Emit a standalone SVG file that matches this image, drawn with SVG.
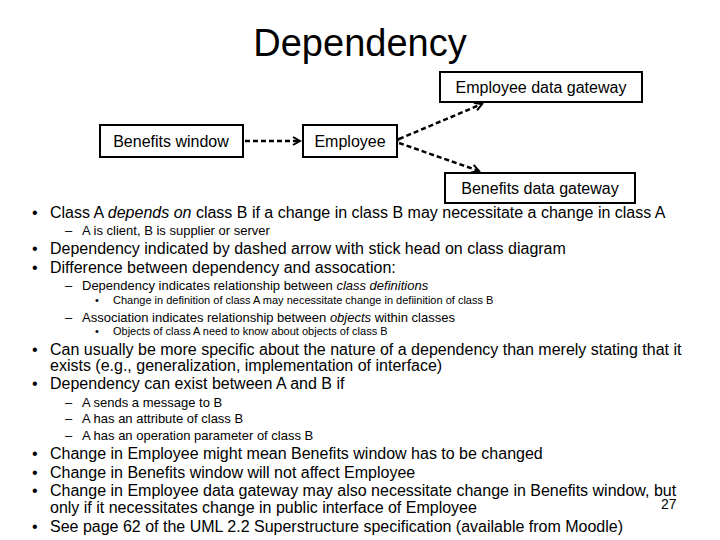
<svg xmlns="http://www.w3.org/2000/svg" width="720" height="540" viewBox="0 0 720 540">
<style>
text{font-family:"Liberation Sans",Arial,sans-serif;fill:#000}
.box{fill:#fff;stroke:#000;stroke-width:2}
.bt{font-size:16px}
.l1{font-size:16px}
.l2{font-size:13px}
.l3{font-size:11px}
.c{stroke:#000;stroke-width:2.5;stroke-dasharray:5,3;fill:none}
</style>
<defs>
<marker id="h" markerWidth="10" markerHeight="10" refX="8" refY="5" orient="auto" markerUnits="userSpaceOnUse">
<path d="M1,1 L8,5 L1,9" fill="none" stroke="#000" stroke-width="2"/>
</marker>
</defs>
<rect width="720" height="540" fill="#fff"/>
<text x="360" y="56" font-size="38" text-anchor="middle">Dependency</text>
<g id="connectors">
<line class="c" x1="245" y1="141" x2="300" y2="141" marker-end="url(#h)"/>
<line class="c" x1="399" y1="139" x2="482" y2="104" marker-end="url(#h)" marker-start="url(#h)"/>
<line class="c" x1="399" y1="143" x2="479" y2="171" marker-end="url(#h)"/>
</g>
<g id="n-edg"><rect class="box" x="440" y="72" width="202" height="30"/><text class="bt" x="541" y="93" text-anchor="middle">Employee data gateway</text></g>
<g id="n-bw"><rect class="box" x="100" y="125" width="143" height="32"/><text class="bt" x="171" y="147" text-anchor="middle">Benefits window</text></g>
<g id="n-emp"><rect class="box" x="303" y="125" width="94" height="32"/><text class="bt" x="350" y="147" text-anchor="middle">Employee</text></g>
<g id="n-bdg"><rect class="box" x="445" y="173" width="190" height="30"/><text class="bt" x="540" y="194" text-anchor="middle">Benefits data gateway</text></g>
<g id="bullets">
<text class="l1" x="32" y="218">•</text><text class="l1" x="50" y="218">Class A <tspan font-style="italic">depends on</tspan> class B if a change in class B may necessitate a change in class A</text>
<text class="l2" x="65" y="235">–</text><text class="l2" x="82" y="235">A is client, B is supplier or server</text>
<text class="l1" x="32" y="254">•</text><text class="l1" x="50" y="254">Dependency indicated by dashed arrow with stick head on class diagram</text>
<text class="l1" x="32" y="273">•</text><text class="l1" x="50" y="273">Difference between dependency and assocation:</text>
<text class="l2" x="65" y="290">–</text><text class="l2" x="82" y="290">Dependency indicates relationship between <tspan font-style="italic">class definitions</tspan></text>
<text class="l3" x="95" y="304">•</text><text class="l3" x="113" y="304">Change in definition of class A may necessitate change in defiinition of class B</text>
<text class="l2" x="65" y="322">–</text><text class="l2" x="82" y="322">Association indicates relationship between <tspan font-style="italic">objects</tspan> within classes</text>
<text class="l3" x="95" y="335">•</text><text class="l3" x="113" y="335">Objects of class A need to know about objects of class B</text>
<text class="l1" x="32" y="355">•</text><text class="l1" x="50" y="355">Can usually be more specific about the nature of a dependency than merely stating that it</text>
<text class="l1" x="50" y="371">exists (e.g., generalization, implementation of interface)</text>
<text class="l1" x="32" y="389">•</text><text class="l1" x="50" y="389">Dependency can exist between A and B if</text>
<text class="l2" x="65" y="407">–</text><text class="l2" x="82" y="407">A sends a message to B</text>
<text class="l2" x="65" y="423">–</text><text class="l2" x="82" y="423">A has an attribute of class B</text>
<text class="l2" x="65" y="440">–</text><text class="l2" x="82" y="440">A has an operation parameter of class B</text>
<text class="l1" x="32" y="459">•</text><text class="l1" x="50" y="459">Change in Employee might mean Benefits window has to be changed</text>
<text class="l1" x="32" y="478">•</text><text class="l1" x="50" y="478">Change in Benefits window will not affect Employee</text>
<text class="l1" x="32" y="496">•</text><text class="l1" x="50" y="496">Change in Employee data gateway may also necessitate change in Benefits window, but</text>
<text class="l1" x="50" y="513">only if it necessitates change in public interface of Employee</text>
<text class="l1" x="32" y="532">•</text><text class="l1" x="50" y="532">See page 62 of the UML 2.2 Superstructure specification (available from Moodle)</text>
<text x="661" y="509" font-size="14">27</text>
</g>
</svg>
